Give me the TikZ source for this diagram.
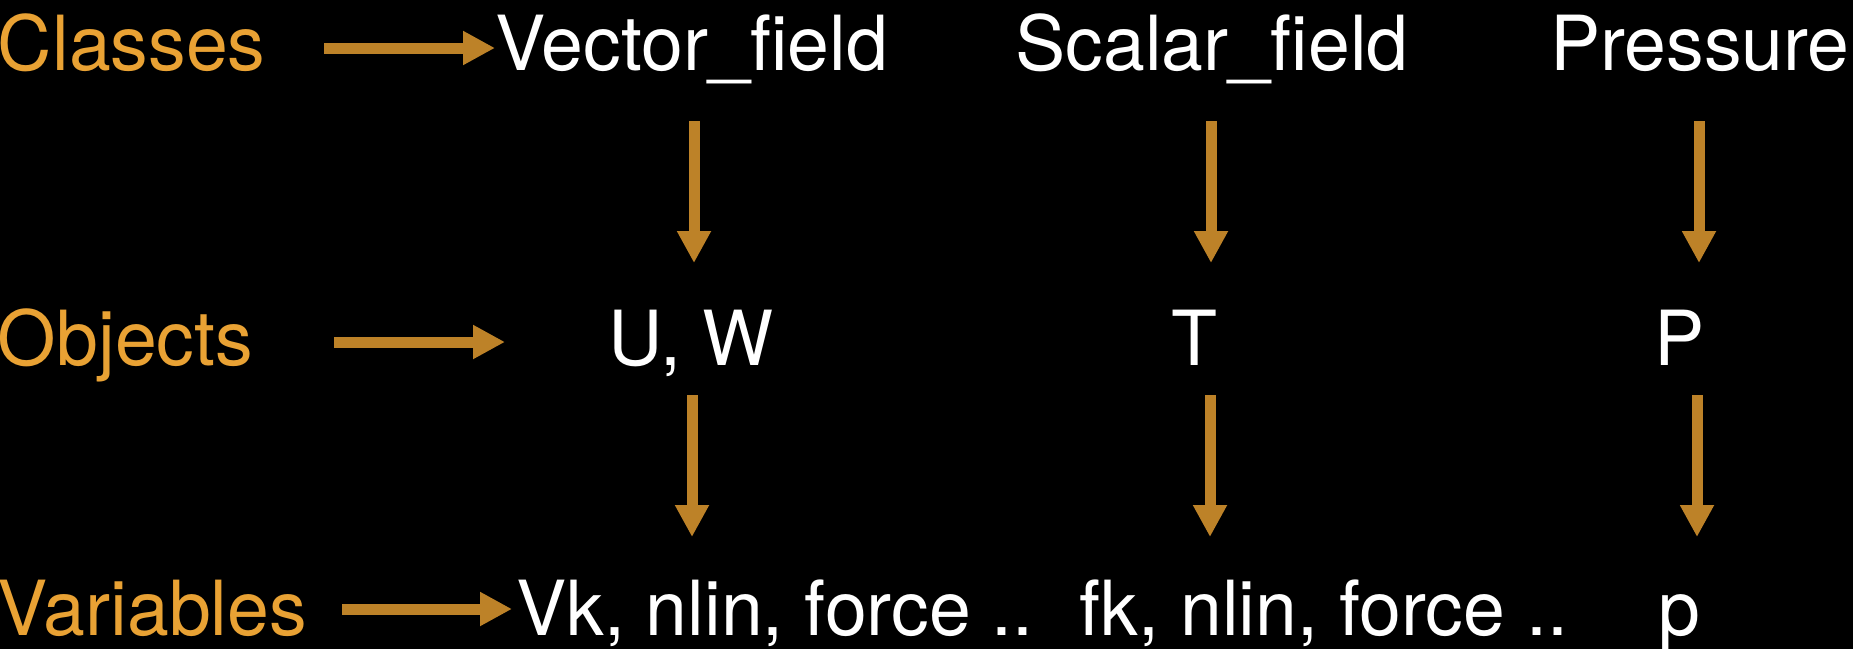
\documentclass[tikz,border=0pt]{standalone}
\usepackage{fontspec}
\setmainfont{TeX Gyre Heros}[FakeStretch=0.99]
\usetikzlibrary{arrows.meta}
\definecolor{labelorange}{RGB}{233,162,52}
\definecolor{arroworange}{RGB}{189,130,40}
\begin{document}
\begin{tikzpicture}[x=1pt,y=-1pt,
  every node/.style={inner sep=0pt,outer sep=0pt,font=\fontsize{76}{80}\selectfont},
  rowlabel/.style={anchor=base west,text=labelorange},
  item/.style={anchor=base,text=white},
  arr/.style={draw=arroworange,line width=11pt,-{Triangle[length=32pt,width=32pt]}}]
  % background and page size
  \fill[black] (0,0) rectangle (1853,649);
  \useasboundingbox (0,0) rectangle (1853,649);

  % row labels
  \node[rowlabel] (classes) at (-2,70) {Classes};
  \node[rowlabel] (objects) at (-2,365) {Objects};
  \node[rowlabel] (variables) at (-2,635) {Variables};

  % classes
  \node[item] (vf) at (692,70) {Vector\_field};
  \node[item] (sf) at (1212,70) {Scalar\_field};
  \node[item] (pr) at (1700,70) {Pressure};
  % objects
  \node[item] (uw) at (691,365) {U, W};
  \node[item] (tt) at (1194,365) {T};
  \node[item] (pp) at (1680,365) {P};
  % variables
  \node[item] (vk) at (775,635) {Vk, nlin, force ..};
  \node[item] (fk) at (1324,635) {fk, nlin, force ..};
  \node[item] (lp) at (1679,635) {p};

  % arrow end points
  \coordinate (h1s) at (324,48);  \coordinate (h1e) at (495,48);
  \coordinate (h2s) at (334,342); \coordinate (h2e) at (505,342);
  \coordinate (h3s) at (342,609); \coordinate (h3e) at (512,609);

  \coordinate (a1s) at (694,121);  \coordinate (a1e) at (694,263);
  \coordinate (a2s) at (1211,121); \coordinate (a2e) at (1211,263);
  \coordinate (a3s) at (1699,121); \coordinate (a3e) at (1699,263);
  \coordinate (b1s) at (692,395);  \coordinate (b1e) at (692,537);
  \coordinate (b2s) at (1210,395); \coordinate (b2e) at (1210,537);
  \coordinate (b3s) at (1697,395); \coordinate (b3e) at (1697,537);

  % row arrows
  \draw[arr] (h1s) -- (h1e);
  \draw[arr] (h2s) -- (h2e);
  \draw[arr] (h3s) -- (h3e);
  % column arrows
  \draw[arr] (a1s) -- (a1e);
  \draw[arr] (a2s) -- (a2e);
  \draw[arr] (a3s) -- (a3e);
  \draw[arr] (b1s) -- (b1e);
  \draw[arr] (b2s) -- (b2e);
  \draw[arr] (b3s) -- (b3e);
\end{tikzpicture}
\end{document}
